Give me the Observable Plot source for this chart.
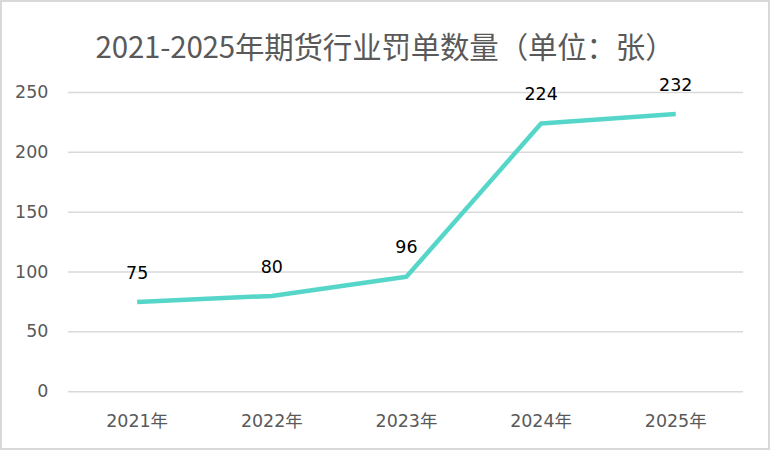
<!DOCTYPE html>
<html>
<head>
<meta charset="utf-8">
<script src="https://cdn.jsdelivr.net/npm/d3@7"></script>
<script src="https://cdn.jsdelivr.net/npm/@observablehq/plot@0.6"></script>
<style>
  html, body { margin: 0; padding: 0; background: #fff; }
  #wrap { position: relative; width: 770px; height: 450px; box-sizing: border-box; border: 2px solid #d9d9d9; background: #fff; overflow: hidden; font-family: "Noto Sans CJK SC", "Noto Sans", sans-serif; }
  #title { position: absolute; left: 0; top: 23px; width: 766px; text-align: center; font-size: 29.5px; color: #595959; line-height: 40px; letter-spacing: -0.2px; }
  #chart { position: absolute; left: -2px; top: 68px; }
</style>
</head>
<body>
<div id="wrap">
  <div id="title">2021-2025年期货行业罚单数量（单位：张）</div>
  <div id="chart"></div>
</div>
<script>
const years = ["2021年", "2022年", "2023年", "2024年", "2025年"];
const counts = [75, 80, 96, 224, 232];
const yTicks = [0, 50, 100, 150, 200, 250];

const data = years.map((y, i) => ({year: y, value: counts[i]}));

const font = "'DejaVu Sans', 'Noto Sans CJK SC', sans-serif";

const plot = Plot.plot({
  width: 770,
  height: 377,
  marginTop: 22,
  marginBottom: 55,
  marginLeft: 68,
  marginRight: 25,
  style: {fontFamily: font, fontSize: "17.5px", color: "#595959", background: "transparent"},
  x: {type: "point", domain: years, padding: 0.5, label: null},
  y: {domain: [0, 250], label: null},
  marks: [
    Plot.gridY(yTicks, {stroke: "#d9d9d9", strokeOpacity: 1, strokeWidth: 1.5}),
    Plot.axisY(yTicks, {tickSize: 0, tickPadding: 20, fontSize: 17.5, fill: "#595959", fontFamily: font, label: null}),
    Plot.axisX(years, {tickSize: 0, tickPadding: 23, fontSize: 17.5, fill: "#595959", fontFamily: font, label: null}),
    Plot.line(data, {x: "year", y: "value", stroke: "#55d6c8", strokeWidth: 4.5, strokeLinejoin: "round", strokeLinecap: "butt"}),
    Plot.text(data, {x: "year", y: "value", text: d => String(d.value), dy: -29, fontSize: 17.5, fill: "#000", fontFamily: font})
  ]
});
document.getElementById("chart").appendChild(plot);
</script>
</body>
</html>
